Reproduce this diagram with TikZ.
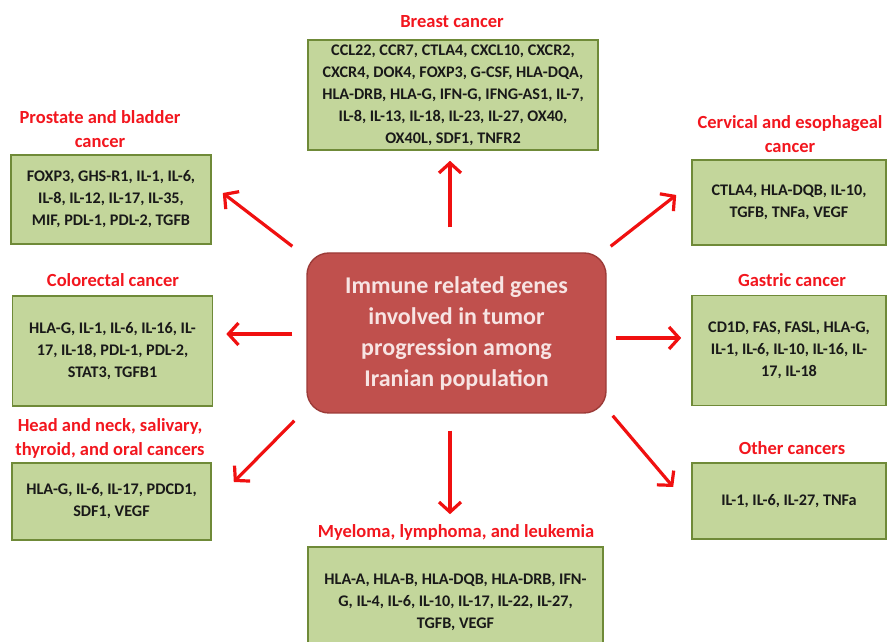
\documentclass[tikz,border=0pt]{standalone}
\usepackage{fontspec}
\setmainfont{Carlito}
\usepackage{tikz}
\usetikzlibrary{arrows.meta,calc}
\definecolor{boxgreen}{HTML}{C3D69B}
\definecolor{boxedge}{HTML}{6F8A38}
\definecolor{hubred}{HTML}{C0504D}
\definecolor{hubedge}{HTML}{9C3B38}
\definecolor{hubtext}{HTML}{F7E4E3}
\definecolor{titlered}{HTML}{F2161E}
\definecolor{arrred}{HTML}{F01010}

\tikzset{
  genebox/.style={draw=boxedge, line width=1.6pt, fill=boxgreen, align=center,
    font=\bfseries\fontsize{16.2}{22}\selectfont, text=black!90, inner sep=0pt},
  cancertitle/.style={align=center, text=titlered,
    font=\bfseries\fontsize{18.5}{24}\selectfont, inner sep=0pt},
  hubbox/.style={draw=hubedge, line width=1.4pt, fill=hubred, rounded corners=22pt,
    align=center, text=hubtext, font=\bfseries\fontsize{24}{31}\selectfont},
  arr/.style={draw=arrred, line width=3.2pt,
    -{Straight Barb[length=10pt,width=22pt,line width=3.2pt]}}
}

\begin{document}
\begin{tikzpicture}[x=1pt,y=1pt]
\useasboundingbox (0,0) rectangle (887,642);
\clip (0,0) rectangle (887,642);

% hub
\node[hubbox, minimum width=299pt, minimum height=160pt] (hub) at (456.5,309)
  {Immune related genes\\involved in tumor\\progression among\\Iranian population};

% gene boxes
\node[genebox, minimum width=290pt, minimum height=110pt] (breast) at (453,547)
  {CCL22, CCR7, CTLA4, CXCL10, CXCR2,\\CXCR4, DOK4, FOXP3, G-CSF, HLA-DQA,\\HLA-DRB, HLA-G, IFN-G, IFNG-AS1, IL-7,\\IL-8, IL-13, IL-18, IL-23, IL-27, OX40,\\OX40L, SDF1, TNFR2};
\node[genebox, minimum width=200pt, minimum height=89pt] (prostate) at (111,442.5)
  {FOXP3, GHS-R1, IL-1, IL-6,\\IL-8, IL-12, IL-17, IL-35,\\MIF, PDL-1, PDL-2, TGFB};
\node[genebox, minimum width=194pt, minimum height=85pt] (cervical) at (789,439.5)
  {CTLA4, HLA-DQB, IL-10,\\TGFB, TNFa, VEGF};
\node[genebox, minimum width=200pt, minimum height=110pt] (colorectal) at (112.5,291)
  {HLA-G, IL-1, IL-6, IL-16, IL-\\17, IL-18, PDL-1, PDL-2,\\STAT3, TGFB1};
\node[genebox, minimum width=194pt, minimum height=110pt] (gastric) at (789,291.5)
  {CD1D, FAS, FASL, HLA-G,\\IL-1, IL-6, IL-10, IL-16, IL-\\17, IL-18};
\node[genebox, minimum width=199pt, minimum height=77pt] (head) at (111.5,140.5)
  {HLA-G, IL-6, IL-17, PDCD1,\\SDF1, VEGF};
\node[genebox, minimum width=194pt, minimum height=76pt] (other) at (789,141)
  {IL-1, IL-6, IL-27, TNFa};
\node[genebox, minimum width=295pt, minimum height=110pt] (myeloma) at (455.5,40)
  {HLA-A, HLA-B, HLA-DQB, HLA-DRB, IFN-\\G, IL-4, IL-6, IL-10, IL-17, IL-22, IL-27,\\TGFB, VEGF};

% titles
\node[cancertitle] (t-breast) at (452,620) {Breast cancer};
\node[cancertitle] (t-prostate) at (100,513) {Prostate and bladder\\cancer};
\node[cancertitle] (t-cervical) at (790,507.5) {Cervical and esophageal\\cancer};
\node[cancertitle] (t-colorectal) at (113,362) {Colorectal cancer};
\node[cancertitle] (t-gastric) at (792,362) {Gastric cancer};
\node[cancertitle] (t-head) at (110,203.5) {Head and neck, salivary,\\thyroid, and oral cancers};
\node[cancertitle] (t-other) at (792,194) {Other cancers};
\node[cancertitle] (t-myeloma) at (456,110) {Myeloma, lymphoma, and leukemia};

% arrows
\draw[arr] ([xshift=-6.5pt,yshift=25pt]hub.north) -- ([xshift=-3pt,yshift=-10pt]breast.south);
\draw[arr] ([xshift=-14pt,yshift=6pt]hub.north west) -- ([xshift=11pt,yshift=6.5pt]prostate.east);
\draw[arr] ([xshift=4pt,yshift=6pt]hub.north east) -- ([xshift=-15pt,yshift=7.5pt]cervical.west);
\draw[arr] ([xshift=-14pt,yshift=-1pt]hub.west) -- ([xshift=13pt,yshift=17pt]colorectal.east);
\draw[arr] ([xshift=9pt,yshift=-5pt]hub.east) -- ([xshift=-10pt,yshift=12.5pt]gastric.west);
\draw[arr] ([xshift=-12pt,yshift=-7pt]hub.south west) -- ([xshift=22pt,yshift=19.5pt]head.east);
\draw[arr] ([xshift=6pt,yshift=-2pt]hub.south east) -- ([xshift=-18pt,yshift=14pt]other.west);
\draw[arr] ([xshift=-6.5pt,yshift=-17pt]hub.south) -- ([xshift=-5.5pt,yshift=32pt]myeloma.north);
\end{tikzpicture}
\end{document}
